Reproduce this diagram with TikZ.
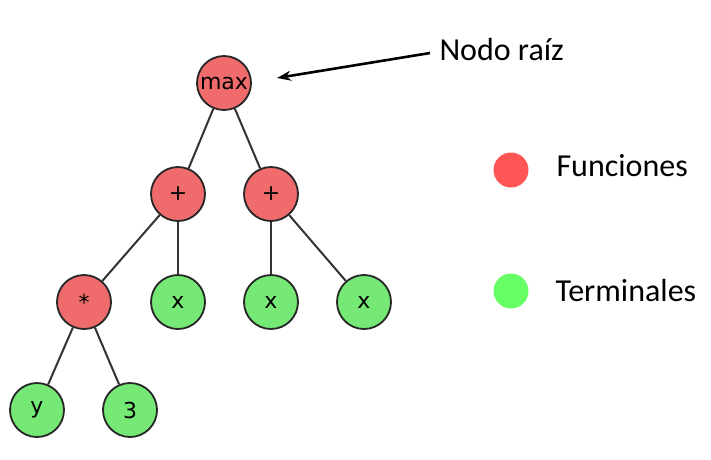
\documentclass[tikz,border=0pt]{standalone}
\usepackage{fontspec}
\setmainfont{Carlito}
\newfontfamily\nodefont{DejaVu Sans}
\usetikzlibrary{arrows.meta}
\definecolor{funcfill}{RGB}{240,108,108}
\definecolor{termfill}{RGB}{118,232,118}
\definecolor{funcdot}{RGB}{255,85,85}
\definecolor{termdot}{RGB}{102,255,102}
\begin{document}
\begin{tikzpicture}[%
    x=1pt,y=-1pt,%
    treenode/.style={circle,draw=black!85,line width=1.8pt,minimum size=54pt,inner sep=0pt,font=\nodefont\fontsize{22}{22}\selectfont},%
    func/.style={treenode,fill=funcfill},%
    term/.style={treenode,fill=termfill},%
    edge/.style={draw=black!80,line width=2pt},%
    legenddot/.style={circle,minimum size=35pt,inner sep=0pt},%
    legendtext/.style={font=\fontsize{32}{32}\selectfont,anchor=west},%
]%
    \useasboundingbox (0,0) rectangle (711,459);

    % tree nodes
    \node[func] (maxnode) at (224,83) {max};
    \node[func] (plusL) at (178,194) {+};
    \node[func] (plusR) at (271,194) {+};
    \node[func] (times) at (84,302) {*};
    \node[term] (xa) at (178,302) {x};
    \node[term] (xb) at (271,302) {x};
    \node[term] (xc) at (364,302) {x};
    \node[term] (yy) at (37,410) {y};
    \node[term] (three) at (130,410) {3};

    % edges
    \foreach \a/\b in {maxnode/plusL,maxnode/plusR,plusL/times,plusL/xa,%
        plusR/xb,plusR/xc,times/yy,times/three}{%
        \path[edge] (\a) -- (\b);
    }

    % root label
    \node[legendtext] (rootlbl) at (436,50) {Nodo raíz};
    \coordinate (rootarrow) at (277,78);
    \draw[line width=2.6pt,-{Stealth[length=14pt,width=10pt]}] (rootlbl.west) ++(-6,3) -- (rootarrow);

    % legend
    \node[legenddot,fill=funcdot] (fdot) at (511,170) {};
    \node[legendtext] (ftext) at (553,166) {Funciones};
    \node[legenddot,fill=termdot] (tdot) at (511,291) {};
    \node[legendtext] (ttext) at (552,290) {Terminales};
\end{tikzpicture}
\end{document}
